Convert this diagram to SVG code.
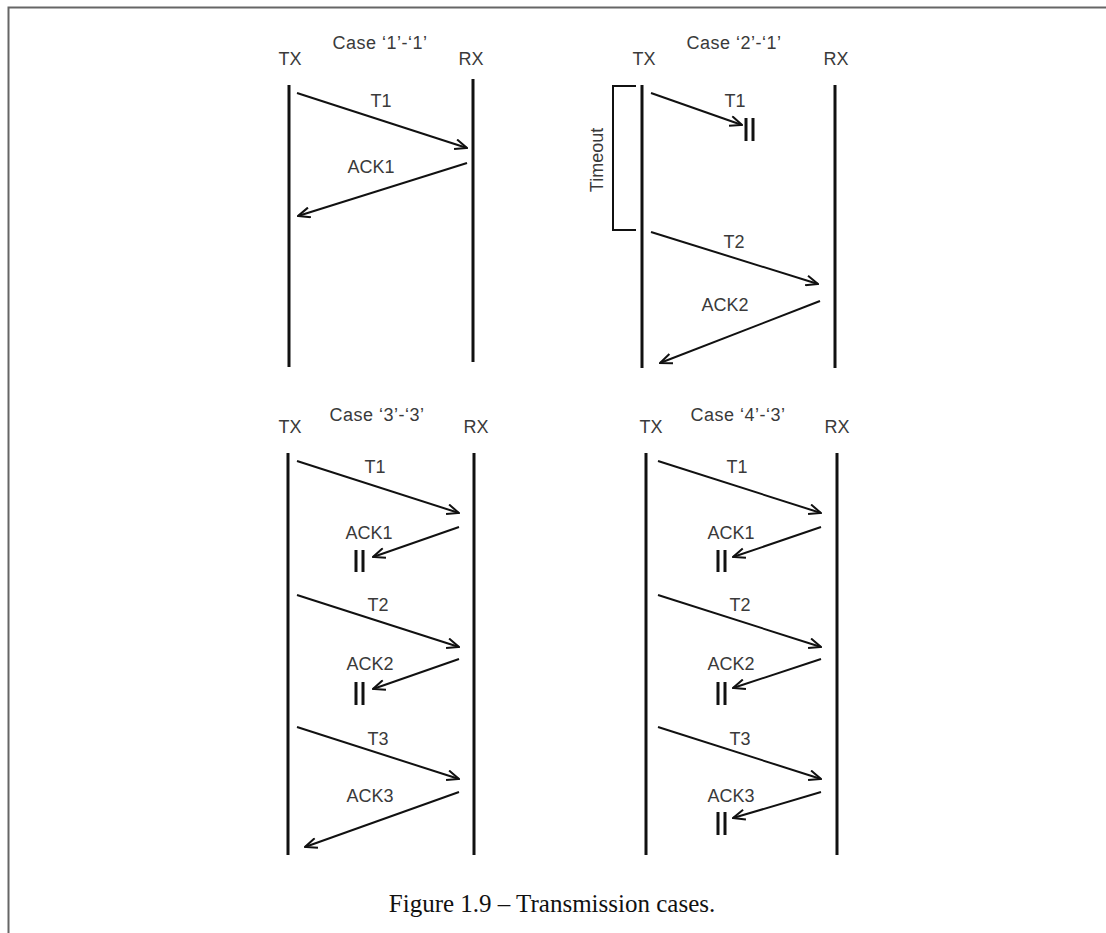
<svg xmlns="http://www.w3.org/2000/svg" width="1106" height="933" viewBox="0 0 1106 933">
<defs>
<style>
.frame{fill:none;stroke:#666;stroke-width:2}
.life{stroke:#111;stroke-width:3;fill:none}
.msg{stroke:#111;stroke-width:2;fill:none;marker-end:url(#ah)}
.brk{stroke:#111;stroke-width:2;fill:none}
.lost{stroke:#111;stroke-width:3}
.hd{font-family:"Liberation Sans",Arial,sans-serif;font-size:18px;fill:#3a3a3a;text-anchor:middle}
.lbl{font-family:"Liberation Sans",Arial,sans-serif;font-size:18px;fill:#3a3a3a;text-anchor:middle}
.case{font-family:"Liberation Sans",Arial,sans-serif;font-size:18px;fill:#3a3a3a;text-anchor:middle;letter-spacing:0.5px}
.cap{font-family:"Liberation Serif","Times New Roman",serif;font-size:25px;fill:#111;text-anchor:middle}
</style>
<marker id="ah" viewBox="0 0 14 12" refX="13" refY="6" markerWidth="14" markerHeight="12" orient="auto" markerUnits="userSpaceOnUse">
<path d="M1,1 L13,6 L1,11" fill="none" stroke="#111" stroke-width="2"/>
</marker>
</defs>
<rect width="1106" height="933" fill="#fff"/>
<path class="frame" d="M8.5,933 V7.5 H1106"/>

<g id="case1">
<text class="case" x="380" y="49">Case ‘1’-‘1’</text>
<text class="hd" x="290" y="65">TX</text>
<text class="hd" x="471" y="65">RX</text>
<line class="life" x1="289" y1="85" x2="289" y2="367"/>
<line class="life" x1="473" y1="79" x2="473" y2="362"/>
<text class="lbl" x="381" y="107">T1</text>
<text class="lbl" x="371" y="173">ACK1</text>
</g>

<g id="case2">
<text class="case" x="734" y="49">Case ‘2’-‘1’</text>
<text class="hd" x="644" y="65">TX</text>
<text class="hd" x="836" y="65">RX</text>
<line class="life" x1="642" y1="85" x2="642" y2="368"/>
<line class="life" x1="835" y1="85" x2="835" y2="368"/>
<path class="brk" d="M636,86 H613 V230 H636"/>
<text class="lbl" transform="translate(603,160) rotate(-90)">Timeout</text>
<text class="lbl" x="735" y="107">T1</text>
<line class="lost" x1="746" y1="118" x2="746" y2="141"/>
<line class="lost" x1="753" y1="118" x2="753" y2="141"/>
<text class="lbl" x="734" y="248">T2</text>
<text class="lbl" x="725" y="311">ACK2</text>
</g>

<g id="case3">
<text class="case" x="377" y="421">Case ‘3’-‘3’</text>
<text class="hd" x="290" y="433">TX</text>
<text class="hd" x="476" y="433">RX</text>
<line class="life" x1="288" y1="453" x2="288" y2="855"/>
<line class="life" x1="474" y1="453" x2="474" y2="855"/>
<text class="lbl" x="375" y="473">T1</text>
<text class="lbl" x="369" y="539">ACK1</text>
<line class="lost" x1="356" y1="550" x2="356" y2="572"/>
<line class="lost" x1="363" y1="550" x2="363" y2="572"/>
<text class="lbl" x="378" y="611">T2</text>
<text class="lbl" x="370" y="670">ACK2</text>
<line class="lost" x1="356" y1="682" x2="356" y2="705"/>
<line class="lost" x1="363" y1="682" x2="363" y2="705"/>
<text class="lbl" x="378" y="745">T3</text>
<text class="lbl" x="370" y="802">ACK3</text>
</g>

<g id="case4">
<text class="case" x="738" y="421">Case ‘4’-‘3’</text>
<text class="hd" x="651" y="433">TX</text>
<text class="hd" x="837" y="433">RX</text>
<line class="life" x1="646" y1="453" x2="646" y2="855"/>
<line class="life" x1="837" y1="453" x2="837" y2="855"/>
<text class="lbl" x="737" y="473">T1</text>
<text class="lbl" x="731" y="539">ACK1</text>
<line class="lost" x1="718" y1="550" x2="718" y2="572"/>
<line class="lost" x1="725" y1="550" x2="725" y2="572"/>
<text class="lbl" x="740" y="611">T2</text>
<text class="lbl" x="731" y="670">ACK2</text>
<line class="lost" x1="718" y1="682" x2="718" y2="705"/>
<line class="lost" x1="725" y1="682" x2="725" y2="705"/>
<text class="lbl" x="740" y="745">T3</text>
<text class="lbl" x="731" y="802">ACK3</text>
<line class="lost" x1="718" y1="812" x2="718" y2="835"/>
<line class="lost" x1="725" y1="812" x2="725" y2="835"/>
</g>

<g id="connectors">
<line class="msg" x1="297" y1="93" x2="467" y2="148"/>
<line class="msg" x1="467" y1="163" x2="298" y2="216"/>
<line class="msg" x1="651" y1="93" x2="742" y2="125"/>
<line class="msg" x1="651" y1="232" x2="818" y2="284"/>
<line class="msg" x1="820" y1="301" x2="660" y2="363"/>
<line class="msg" x1="297" y1="461" x2="459" y2="513"/>
<line class="msg" x1="459" y1="527" x2="373" y2="557"/>
<line class="msg" x1="297" y1="595" x2="459" y2="647"/>
<line class="msg" x1="459" y1="659" x2="373" y2="689"/>
<line class="msg" x1="297" y1="727" x2="459" y2="779"/>
<line class="msg" x1="459" y1="792" x2="305" y2="847"/>
<line class="msg" x1="658" y1="461" x2="821" y2="513"/>
<line class="msg" x1="821" y1="527" x2="733" y2="557"/>
<line class="msg" x1="658" y1="595" x2="821" y2="647"/>
<line class="msg" x1="821" y1="659" x2="733" y2="688"/>
<line class="msg" x1="658" y1="727" x2="821" y2="779"/>
<line class="msg" x1="821" y1="792" x2="733" y2="818"/>
</g>

<text class="cap" x="552" y="912">Figure 1.9 – Transmission cases.</text>
</svg>
